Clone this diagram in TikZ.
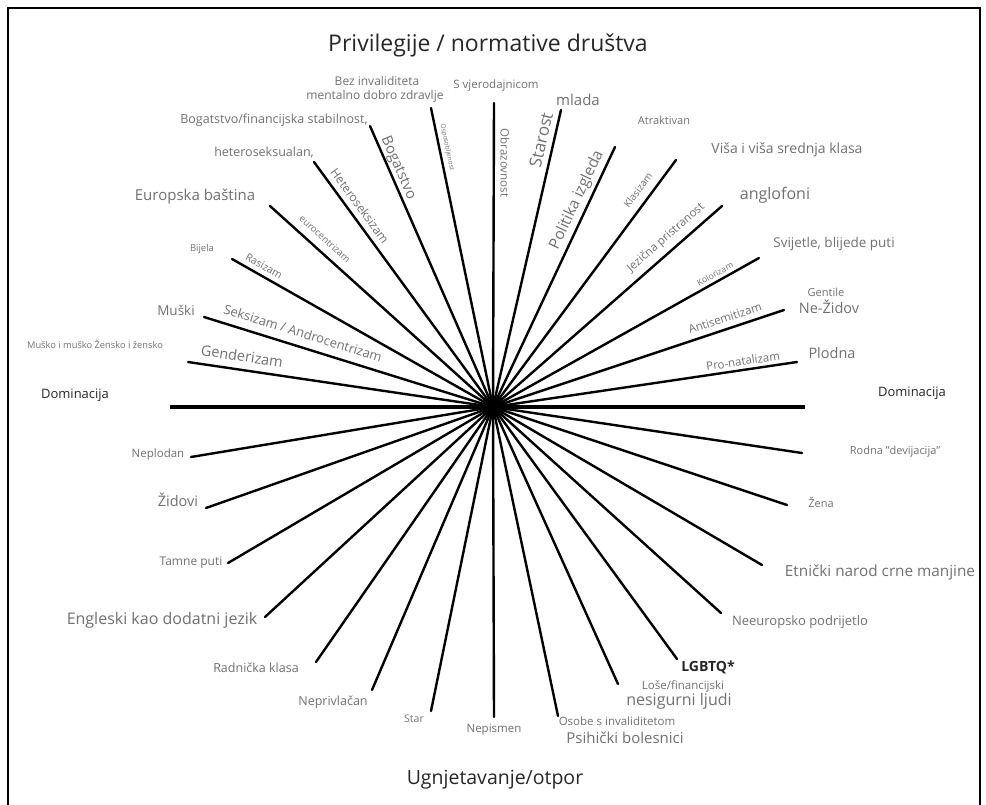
\documentclass[tikz,border=0pt]{standalone}
\usepackage{fontspec}
\setmainfont{Open Sans}
\definecolor{txtgray}{HTML}{707070}
\definecolor{txtdark}{HTML}{262626}
\newcommand{\fsz}[1]{\fontsize{#1}{#1}\selectfont}

\begin{document}
\begin{tikzpicture}[x=1pt,y=-1pt,
  spoke/.style={line width=2.4pt,line cap=round},
  lbl/.style={text=txtgray,inner sep=0pt},
  dark/.style={text=txtdark,inner sep=0pt}]
  \useasboundingbox (0,0) rectangle (986,805);
  \draw[line width=1.5pt] (8,805) -- (8,8) -- (980,8) -- (980,805);

  \coordinate (c) at (493,407);
  \coordinate (domL) at (170,407); \coordinate (domR) at (805,407);
  \draw[line width=4pt] (domL) -- (domR);

  % privilegije (gore)
  \foreach \n/\x/\y in {gen/188/362,seks/204/317,ras/232/259,euro/270/206,
    het/314/162,bog/370/126,osp/431/108,obr/494/103,star/561/110,
    pol/615/147,klas/676/160,jez/722/206,kol/759/258,anti/784/310,nat/797/362}
    {\coordinate (\n) at (\x,\y); \draw[spoke] (c) -- (\n);}
  % ugnjetavanje (dolje)
  \foreach \n/\x/\y in {rod/802/453,zen/787/505,etn/762/565,neeu/721/613,
    lgb/677/659,nes/618/684,psi/558/716,nep/494/717,sta/431/711,
    npr/372/690,rad/316/662,eng/265/617,tam/228/563,zid/206/508,npl/191/457}
    {\coordinate (\n) at (\x,\y); \draw[spoke] (c) -- (\n);}

  \node[dark,font=\fsz{23}] (top) at (488,45) {Privilegije / normative društva};
  \node[dark,font=\fsz{19.5}] (bot) at (495,780) {Ugnjetavanje/otpor};
  \node[dark,font=\fsz{13}] (l-domL) at (75,395) {Dominacija};
  \node[dark,font=\fsz{13}] (l-domR) at (912,393) {Dominacija};

  % oznake uz krajeve (gore)
  \node[lbl,font=\fsz{9.3}] (l-gen) at (95,344) {Muško i muško Žensko i žensko};
  \node[lbl,font=\fsz{13.5}] (l-seks) at (176,310) {Muški};
  \node[lbl,font=\fsz{9.5}] (l-ras) at (202,249) {Bijela};
  \node[lbl,font=\fsz{15}] (l-euro) at (195,197) {Europska baština};
  \node[lbl,font=\fsz{12.5}] (l-het) at (264,153) {heteroseksualan,};
  \node[lbl,font=\fsz{12.5}] (l-bog) at (274,120) {Bogatstvo/financijska stabilnost,};
  \node[lbl,font=\fsz{12}] (l-osp1) at (377,81) {Bez invaliditeta};
  \node[lbl,font=\fsz{12}] (l-osp2) at (375,96) {mentalno dobro zdravlje};
  \node[lbl,font=\fsz{11.5}] (l-obr) at (496,86) {S vjerodajnicom};
  \node[lbl,font=\fsz{15}] (l-star) at (578,100) {mlada};
  \node[lbl,font=\fsz{11}] (l-pol) at (664,120) {Atraktivan};
  \node[lbl,font=\fsz{14}] (l-klas) at (787,150) {Viša i viša srednja klasa};
  \node[lbl,font=\fsz{16}] (l-jez) at (775,195) {anglofoni};
  \node[lbl,font=\fsz{13.5}] (l-kol) at (834,244) {Svijetle, blijede puti};
  \node[lbl,font=\fsz{11}] (l-anti1) at (826,292) {Gentile};
  \node[lbl,font=\fsz{14.5}] (l-anti2) at (829,307) {Ne-Židov};
  \node[lbl,font=\fsz{14.5}] (l-nat) at (832,353) {Plodna};

  % oznake uz krajeve (dolje)
  \node[lbl,font=\fsz{11}] (l-rod) at (895,452) {Rodna "devijacija"};
  \node[lbl,font=\fsz{11}] (l-zen) at (821,502) {Žena};
  \node[lbl,font=\fsz{15.3}] (l-etn) at (880,572) {Etnički narod crne manjine};
  \node[lbl,font=\fsz{13}] (l-neeu) at (800,622) {Neeuropsko podrijetlo};
  \node[dark,font=\fsz{14}\bfseries] (l-lgb) at (708,667) {LGBTQ*};
  \node[lbl,font=\fsz{11.5}] (l-nes1) at (683,686) {Loše/financijski};
  \node[lbl,font=\fsz{16}] (l-nes2) at (679,701) {nesigurni ljudi};
  \node[lbl,font=\fsz{11.5}] (l-psi1) at (617,721) {Osobe s invaliditetom};
  \node[lbl,font=\fsz{15}] (l-psi2) at (625,738) {Psihički bolesnici};
  \node[lbl,font=\fsz{11.5}] (l-nep) at (494,730) {Nepismen};
  \node[lbl,font=\fsz{10.5}] (l-sta) at (414,719) {Star};
  \node[lbl,font=\fsz{12.5}] (l-npr) at (333,702) {Neprivlačan};
  \node[lbl,font=\fsz{12.5}] (l-rad) at (256,668) {Radnička klasa};
  \node[lbl,font=\fsz{16}] (l-eng) at (162,620) {Engleski kao dodatni jezik};
  \node[lbl,font=\fsz{12}] (l-tam) at (191,563) {Tamne puti};
  \node[lbl,font=\fsz{14.5}] (l-zid) at (178,500) {Židovi};
  \node[lbl,font=\fsz{11.5}] (l-npl) at (158,455) {Neplodan};

  % nazivi -izama uz zrake
  \node[lbl,font=\fsz{14.5},rotate=-8.4] (i-gen) at (242,356) {Genderizam};
  \node[lbl,font=\fsz{13},rotate=-17.3] (i-seks) at (303,333) {Seksizam / Androcentrizam};
  \node[lbl,font=\fsz{10.5},rotate=-29.6] (i-ras) at (264,266) {Rasizam};
  \node[lbl,font=\fsz{9.5},rotate=-42] (i-euro) at (325,239) {eurocentrizam};
  \node[lbl,font=\fsz{12},rotate=-53.8] (i-het) at (360,206) {Heteroseksizam};
  \node[lbl,font=\fsz{14.5},rotate=-66.4] (i-bog) at (398,168) {Bogatstvo};
  \node[lbl,font=\fsz{6.5},rotate=-78.3] (i-osp) at (447,147) {Osposobljenost};
  \node[lbl,font=\fsz{11.5},rotate=-90] (i-obr) at (505,163) {Obrazovnost};
  \node[lbl,font=\fsz{17},rotate=77.1] (i-star) at (541,140) {Starost};
  \node[lbl,font=\fsz{15.5},rotate=64.9] (i-pol) at (577,200) {Politika izgleda};
  \node[lbl,font=\fsz{10},rotate=53.5] (i-klas) at (638,190) {Klasizam};
  \node[lbl,font=\fsz{11.5},rotate=41.3] (i-jez) at (666,238) {Jezična pristranost};
  \node[lbl,font=\fsz{8.5},rotate=29.3] (i-kol) at (715,274) {Kolorizam};
  \node[lbl,font=\fsz{11.5},rotate=18.4] (i-anti) at (725,318) {Antisemitizam};
  \node[lbl,font=\fsz{11.5},rotate=8.4] (i-nat) at (743,361) {Pro-natalizam};
\end{tikzpicture}
\end{document}
